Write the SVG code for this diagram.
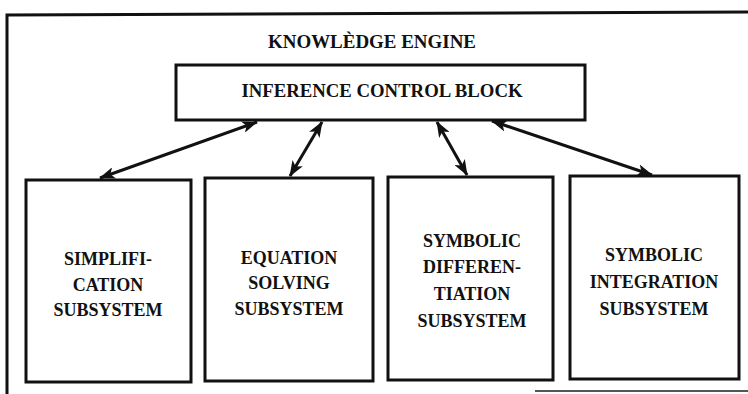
<svg xmlns="http://www.w3.org/2000/svg" width="748" height="394" viewBox="0 0 748 394">
<style>
.box{fill:#fff;stroke:#111;stroke-width:3}
.frame{fill:none;stroke:#111;stroke-width:3}
.t{font-family:"Liberation Serif","Times New Roman",serif;font-weight:bold;font-size:18px;fill:#111;text-anchor:middle}
.c{stroke:#111;stroke-width:3;fill:none;marker-start:url(#ah);marker-end:url(#ah)}
</style>
<defs>
<marker id="ah" viewBox="0 0 16 12" refX="15" refY="6" markerWidth="16" markerHeight="12" markerUnits="userSpaceOnUse" orient="auto-start-reverse">
<path d="M0,0 L16,6 L0,12 L4,6 Z" fill="#111"/>
</marker>
</defs>
<rect width="748" height="394" fill="#fff"/>
<g id="frame">
<path class="frame" d="M7,394 L7,15 L748,12"/>
<line x1="535" y1="391" x2="748" y2="391" stroke="#555" stroke-width="2"/>
<text class="t" x="372" y="48" textLength="208" lengthAdjust="spacingAndGlyphs">KNOWLÈDGE ENGINE</text>
</g>
<g id="icb">
<rect class="box" x="176" y="65" width="409" height="55"/>
<text class="t" x="382" y="97" textLength="281" lengthAdjust="spacingAndGlyphs">INFERENCE CONTROL BLOCK</text>
</g>
<g id="simplification">
<rect class="box" x="26" y="180" width="165" height="202"/>
<text class="t" x="108" y="265">SIMPLIFI-</text>
<text class="t" x="108" y="291">CATION</text>
<text class="t" x="108" y="316">SUBSYSTEM</text>
</g>
<g id="equation">
<rect class="box" x="205" y="178" width="168" height="203"/>
<text class="t" x="289" y="264">EQUATION</text>
<text class="t" x="289" y="289">SOLVING</text>
<text class="t" x="289" y="315">SUBSYSTEM</text>
</g>
<g id="differentiation">
<rect class="box" x="388" y="177" width="165" height="203"/>
<text class="t" x="472" y="247">SYMBOLIC</text>
<text class="t" x="472" y="273">DIFFEREN-</text>
<text class="t" x="472" y="300">TIATION</text>
<text class="t" x="472" y="327">SUBSYSTEM</text>
</g>
<g id="integration">
<rect class="box" x="570" y="176" width="169" height="203"/>
<text class="t" x="654" y="261">SYMBOLIC</text>
<text class="t" x="654" y="288">INTEGRATION</text>
<text class="t" x="654" y="315">SUBSYSTEM</text>
</g>
<g id="connectors">
<line class="c" x1="257" y1="122" x2="100" y2="178"/>
<line class="c" x1="322" y1="122" x2="290" y2="176"/>
<line class="c" x1="437" y1="122" x2="467" y2="175"/>
<line class="c" x1="492" y1="121" x2="652" y2="175"/>
</g>
</svg>
